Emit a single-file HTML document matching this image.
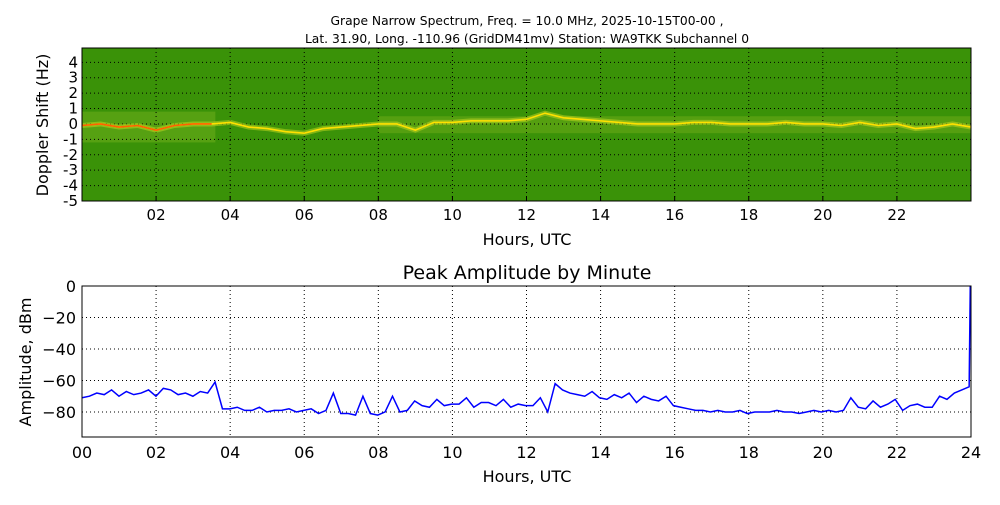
<!DOCTYPE html>
<html><head><meta charset="utf-8"><style>
body{margin:0;background:#fff;font-family:"Liberation Sans","DejaVu Sans",sans-serif}
svg text{font-family:"DejaVu Sans","Liberation Sans",sans-serif}
</style></head><body>
<svg id="c" width="1000" height="500" xmlns="http://www.w3.org/2000/svg">
<rect width="1000" height="500" fill="#fff"/>
<text x="527" y="25" font-size="12.3" text-anchor="middle">Grape Narrow Spectrum, Freq. = 10.0 MHz, 2025-10-15T00-00 ,</text>
<text x="527" y="43" font-size="12.3" text-anchor="middle">Lat.  31.90, Long. -110.96 (GridDM41mv) Station: WA9TKK Subchannel 0</text>
<g id="topg"></g>
<g id="botg"></g>
</svg>
<script>
// spectrogram doppler trace (hour, Hz)
const dopHours=[0,0.5,1,1.5,2,2.5,3,3.5,4,4.5,5,5.5,6,6.5,8,8.5,9,9.5,10,10.5,11,11.5,12,12.5,13,13.5,14,14.5,15,15.5,16,16.5,17,17.5,18,18.5,19,19.5,20,20.5,21,21.5,22,22.5,23,23.5,24];
const dopVals=[-0.1,0,-0.2,-0.1,-0.4,-0.1,0,0,0.1,-0.2,-0.3,-0.5,-0.6,-0.3,0,0,-0.4,0.1,0.1,0.2,0.2,0.2,0.3,0.7,0.4,0.3,0.2,0.1,0,0,0,0.1,0.1,0,0,0,0.1,0,0,-0.1,0.1,-0.1,0,-0.3,-0.2,0,-0.2];
const specYTicks=[-5,-4,-3,-2,-1,0,1,2,3,4];
const hourTicksTop=[2,4,6,8,10,12,14,16,18,20,22];
// amplitude by minute (every 0.2 h)
const ampVals=[-71,-70,-68,-69,-66,-70,-67,-69,-68,-66,-70,-65,-66,-69,-68,-70,-67,-68,-61,-78,
-78,-77,-79,-79,-77,-80,-79,-79,-78,-80,-79,-78,-81,-79,-68,-81,-81,-82,-70,-81,
-82,-80,-70,-80,-79,-73,-76,-77,-72,-76,-75,-75,-71,-77,-74,-74,-76,-72,-77,-75,
-76,-76,-71,-80,-62,-66,-68,-69,-70,-67,-71,-72,-69,-71,-68,-74,-70,-72,-73,-70,
-76,-77,-78,-79,-79,-80,-79,-80,-80,-79,-81,-80,-80,-80,-79,-80,-80,-81,-80,-79,
-80,-79,-80,-79,-71,-77,-78,-73,-77,-75,-72,-79,-76,-75,-77,-77,-70,-72,-68,-66,-64];
const ampYTicks=[0,-20,-40,-60,-80];
const hourTicksBot=[0,2,4,6,8,10,12,14,16,18,20,22,24];
</script>
<script>
const NS="http://www.w3.org/2000/svg";
function mk(t,a,p){const e=document.createElementNS(NS,t);for(const k in a)e.setAttribute(k,a[k]);p.appendChild(e);return e;}
const X0=82,X1=971;
const x=h=>X0+(X1-X0)*h/24;
// top
const topG=document.getElementById('topg');
const TY0=48,TY1=201,ys=v=>TY1-(v+5)*(TY1-TY0)/9.93;
let r=mk('rect',{x:X0,y:TY0,width:X1-X0,height:TY1-TY0,fill:'#3a9208'},topG);


let band=mk('rect',{x:X0,y:ys(0.8),width:x(3.6)-X0,height:ys(-1.2)-ys(0.8),fill:'#7ab420',opacity:0.45},topG);


let band2=mk('rect',{x:x(8),y:ys(0.5),width:X1-x(8),height:ys(-0.6)-ys(0.5),fill:'#8ab820',opacity:0.35},topG);


hourTicksTop.forEach(h=>{const g=mk('line',{x1:x(h),x2:x(h),y1:TY0,y2:TY1,stroke:'#000','stroke-dasharray':'1,3','stroke-width':1},topG);


const t=mk('line',{x1:x(h),x2:x(h),y1:TY1,y2:TY1-5,stroke:'#000'},topG);


const l=mk('text',{x:x(h),y:TY1+19,'font-size':15,'text-anchor':'middle'},topG);l.textContent=String(h).padStart(2,'0');

});
specYTicks.forEach(v=>{const g=mk('line',{x1:X0,x2:X1,y1:ys(v),y2:ys(v),stroke:'#000','stroke-dasharray':'1,3'},topG);


const l=mk('text',{x:X0-4,y:ys(v)+5,'font-size':15,'text-anchor':'end'},topG);l.textContent=v;

});
let dp=dopHours.map((h,i)=>(i?'L':'M')+x(h)+','+ys(dopVals[i])).join('');
let glow=mk('path',{d:dp,fill:'none',stroke:'#c8d820','stroke-width':5,opacity:0.5},topG);


let tr=mk('path',{d:dp,fill:'none',stroke:'#ffe000','stroke-width':1.6},topG);


let dpr=dopHours.map((h,i)=>[h,dopVals[i]]).filter(p=>p[0]<=3.5).map((p,i)=>(i?'L':'M')+x(p[0])+','+ys(p[1])).join('');
let tr2=mk('path',{d:dpr,fill:'none',stroke:'#ff6000','stroke-width':1.6},topG);


let fr=mk('rect',{x:X0,y:TY0,width:X1-X0,height:TY1-TY0,fill:'none',stroke:'#000'},topG);


let yt=mk('text',{x:48,y:125,'font-size':16,'text-anchor':'middle',transform:'rotate(-90 48 125)'},topG);yt.textContent='Doppler Shift (Hz)';


let xt=mk('text',{x:527,y:245,'font-size':16,'text-anchor':'middle'},topG);xt.textContent='Hours, UTC';


// bottom
const botG=document.getElementById('botg');
const BY0=286,BY1=437,ya=v=>BY0+(0-v)*(BY1-BY0)/95.9;
let bt=mk('text',{x:527,y:279,'font-size':19,'text-anchor':'middle'},botG);bt.textContent='Peak Amplitude by Minute';


hourTicksBot.forEach(h=>{if(h>0&&h<24){const g=mk('line',{x1:x(h),x2:x(h),y1:BY0,y2:BY1,stroke:'#000','stroke-dasharray':'1,3'},botG);

}
const l=mk('text',{x:x(h),y:BY1+21,'font-size':16,'text-anchor':'middle'},botG);l.textContent=String(h).padStart(2,'0');

});
ampYTicks.forEach(v=>{if(v<0){const g=mk('line',{x1:X0,x2:X1,y1:ya(v),y2:ya(v),stroke:'#000','stroke-dasharray':'1,3'},botG);

}
const l=mk('text',{x:X0-6,y:ya(v)+6,'font-size':16,'text-anchor':'end'},botG);l.textContent=v===0?'0':'\u2212'+(-v);

});
const n=ampVals.length;
const step=23.95/(n-1);
let ap=ampVals.map((v,i)=>(i?'L':'M')+x(i*step)+','+ya(v)).join('');
ap+='L'+x(23.98)+','+ya(0);
let al=mk('path',{d:ap,fill:'none',stroke:'#0000ff','stroke-width':1.5},botG);


let bf=mk('rect',{x:X0,y:BY0,width:X1-X0,height:BY1-BY0,fill:'none',stroke:'#000'},botG);


let ayt=mk('text',{x:31,y:362,'font-size':16,'text-anchor':'middle',transform:'rotate(-90 31 362)'},botG);ayt.textContent='Amplitude, dBm';


let axt=mk('text',{x:527,y:482,'font-size':16,'text-anchor':'middle'},botG);axt.textContent='Hours, UTC';


</script>
</body></html>
